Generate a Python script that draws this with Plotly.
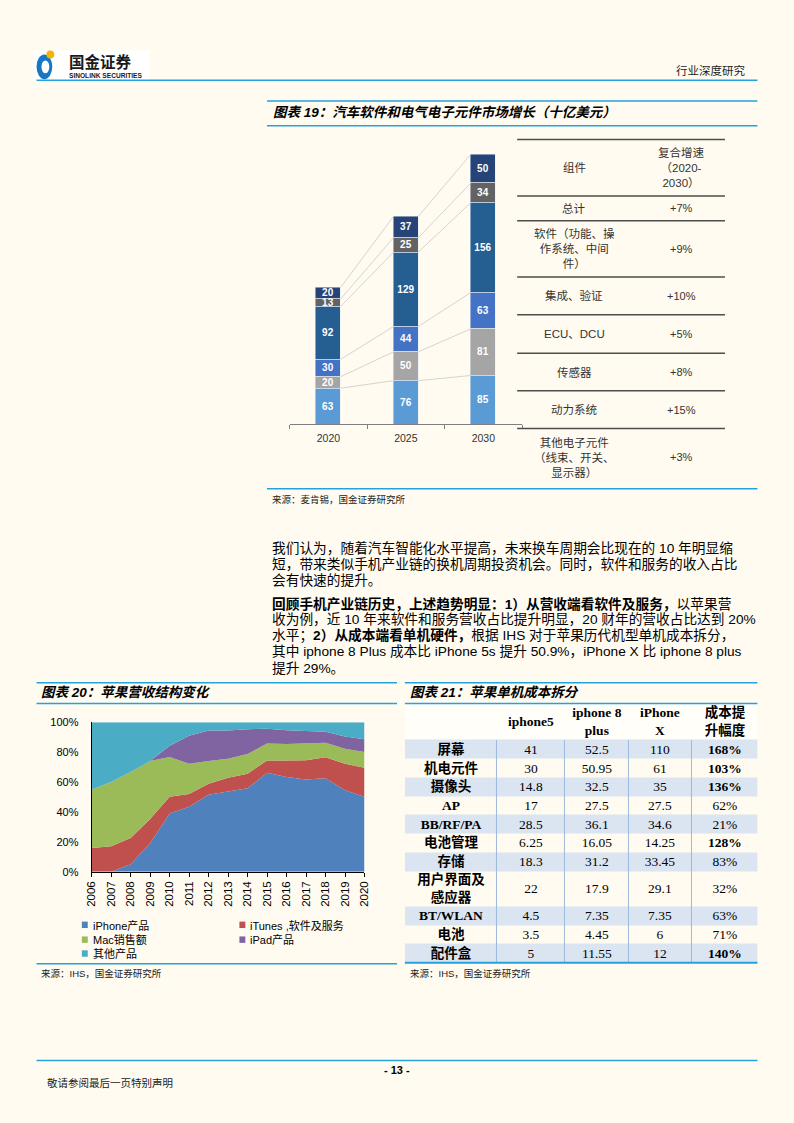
import plotly.graph_objects as go

W, H = 794, 1123
BG = "#FFFBF0"
RULE = "#22A3E0"
CJK = "Noto Sans CJK SC"
SANS = "Liberation Sans, Noto Sans CJK SC"
SERIF = "Liberation Serif, Noto Sans CJK SC"


def X(x):
    return x / W


def Y(y):
    return 1 - y / H


# ---------- 图表19: 汽车软件和电气电子元件市场 (十亿美元) ----------
years19 = ["2020", "2025", "2030"]
parts19 = ["其他电子元件", "动力系统", "传感器", "ECU、DCU", "集成、验证", "软件"]
other19 = [63, 76, 85]
power19 = [20, 50, 81]
sensor19 = [30, 44, 63]
ecu19 = [92, 129, 156]
verify19 = [13, 25, 34]
software19 = [20, 37, 50]
colors19 = ["#5B9BD5", "#A5A5A5", "#4472C4", "#255E91", "#636363", "#264478"]

table19_head = ["组件", "复合增速<br>（2020-<br>2030）"]
table19_parts = ["总计", "软件（功能、操<br>作系统、中间<br>件）", "集成、验证", "ECU、DCU",
                 "传感器", "动力系统", "其他电子元件<br>（线束、开关、<br>显示器）"]
table19_cagr = ["+7%", "+9%", "+10%", "+5%", "+8%", "+15%", "+3%"]

# ---------- 图表20: 苹果营收结构 (%) ----------
years20 = list(range(2006, 2021))
share_iphone = [0, 0, 5, 19, 39, 43.5, 51.4, 53.4, 55.8, 66.2, 63.4, 61.6, 62.5, 54.5, 50.1]
share_itunes = [15.9, 17, 17.5, 16.3, 11.1, 8.4, 7.5, 9.5, 9.8, 8.2, 11, 13, 14.1, 17.7, 19.4]
share_mac = [39.1, 43, 44.2, 38.7, 26.7, 20.3, 15.1, 12.6, 13.2, 11.3, 11, 11.3, 9.7, 10.1, 10.6]
share_ipad = [0, 0, 0, 0, 7.5, 18.7, 20.5, 19, 16.6, 9.9, 9.3, 8.4, 7.3, 8.2, 8.6]
share_other = [45, 40, 33.3, 26, 15.7, 9.1, 5.5, 5.5, 4.6, 4.4, 5.3, 5.7, 6.4, 9.5, 11.3]
names20 = ["iPhone产品", "iTunes ,软件及服务", "Mac销售额", "iPad产品", "其他产品"]
colors20 = ["#4F81BD", "#C0504D", "#9BBB59", "#8064A2", "#4BACC6"]

# ---------- 图表21: 苹果单机成本拆分 ----------
head21 = ["", "iphone5", "iphone 8<br>plus", "iPhone<br>X", "成本提<br>升幅度"]
parts21 = ["屏幕", "机电元件", "摄像头", "AP", "BB/RF/PA", "电池管理", "存储",
           "用户界面及<br>感应器", "BT/WLAN", "电池", "配件盒"]
cost_5 = [41, 30, 14.8, 17, 28.5, 6.25, 18.3, 22, 4.5, 3.5, 5]
cost_8p = [52.5, 50.95, 32.5, 27.5, 36.1, 16.05, 31.2, 17.9, 7.35, 4.45, 11.55]
cost_x = [110, 61, 35, 27.5, 34.6, 14.25, 33.45, 29.1, 7.35, 6, 12]
rise21 = [168, 103, 136, 62, 21, 128, 83, 32, 63, 71, 140]

para1 = [
    "我们认为，随着汽车智能化水平提高，未来换车周期会比现在的 10 年明显缩",
    "短，带来类似手机产业链的换机周期投资机会。同时，软件和服务的收入占比",
    "会有快速的提升。",
]
para2 = [
    "<b>回顾手机产业链历史，上述趋势明显：1）从营收端看软件及服务，</b>以苹果营",
    "收为例，近 10 年来软件和服务营收占比提升明显，20 财年的营收占比达到 20%",
    "水平；<b>2）从成本端看单机硬件，</b>根据 IHS 对于苹果历代机型单机成本拆分，",
    "其中 iphone 8 Plus 成本比 iPhone 5s 提升 50.9%，iPhone X 比 iphone 8 plus",
    "提升 29%。",
]

fig = go.Figure()

# chart 19 stacked bars
series19 = [other19, power19, sensor19, ecu19, verify19, software19]
xs = list(range(len(years19)))
bw = 0.32
for name, vals, col in zip(parts19, series19, colors19):
    fig.add_bar(x=xs, y=vals, name=name, marker_color=col, width=bw,
                text=vals, texttemplate="%{text}", textposition="inside",
                insidetextanchor="middle", textangle=0,
                textfont=dict(color="white", size=10, family="Liberation Sans", weight="bold"),
                xaxis="x", yaxis="y", showlegend=False, hoverinfo="skip")

# series lines between bars
run = [0] * len(xs)
lx, ly = [], []
for vals in series19:
    run = [r + v for r, v in zip(run, vals)]
    for i in range(len(xs) - 1):
        lx += [i + bw / 2, i + 1 - bw / 2, None]
        ly += [run[i], run[i + 1], None]
fig.add_scatter(x=lx, y=ly, mode="lines", line=dict(color="#C9C9C9", width=0.8),
                xaxis="x", yaxis="y", showlegend=False, hoverinfo="skip")

# chart 20 stacked areas
shares = [share_iphone, share_itunes, share_mac, share_ipad, share_other]
for name, vals, col in zip(names20, shares, colors20):
    fig.add_scatter(x=years20, y=vals, name=name, stackgroup="rev", mode="lines",
                    line=dict(width=0, color=col), fillcolor=col,
                    xaxis="x2", yaxis="y2", showlegend=False, hoverinfo="skip")

# chart 21 table, drawn as a heatmap grid with text
fmt = lambda v: f"{v:g}"
text21 = [[f"<b>{h}</b>" for h in head21]]
z21 = [[0] * len(head21)]
for i, p in enumerate(parts21):
    rise = f"<b>{rise21[i]}%</b>" if rise21[i] > 100 else f"{rise21[i]}%"
    text21.append([f"<b>{p}</b>", fmt(cost_5[i]), fmt(cost_8p[i]), fmt(cost_x[i]), rise])
    z21.append([1 if i % 2 == 0 else 2] * len(head21))
col_w = [93, 69, 65, 64, 67]
row_h = [37] + [36 if "<br>" in p else 19 for p in parts21]
x_edges = [0]
for w in col_w:
    x_edges.append(x_edges[-1] + w)
y_edges = [0]
for h in row_h:
    y_edges.append(y_edges[-1] + h)
fig.add_heatmap(z=z21, x=x_edges, y=y_edges, text=text21, texttemplate="%{text}",
                textfont=dict(family=SERIF, size=13.5, color="black"),
                zmin=0, zmax=2, showscale=False, hoverinfo="skip",
                colorscale=[[0, "#FFFEF9"], [0.25, "#FFFEF9"], [0.25, "#DBE5F1"],
                            [0.75, "#DBE5F1"], [0.75, BG], [1, BG]],
                xaxis="x3", yaxis="y3")

shapes = []
for xe in x_edges[1:-1]:
    shapes.append(dict(type="line", xref="x3", yref="y3", x0=xe, x1=xe,
                       y0=y_edges[1], y1=y_edges[-1], line=dict(color="#9DB9DB", width=1)))


def hline(x0, x1, y, color=RULE, width=1.5):
    shapes.append(dict(type="line", xref="paper", yref="paper", x0=X(x0), x1=X(x1),
                       y0=Y(y), y1=Y(y), line=dict(color=color, width=width)))


def rect(x0, y0, x1, y1, color, kind="rect"):
    shapes.append(dict(type=kind, xref="paper", yref="paper", x0=X(x0), x1=X(x1),
                       y0=Y(y1), y1=Y(y0), fillcolor=color, line=dict(width=0)))


annos = []


def txt(x, y, s, size=12, family=CJK, color="black", anchor="left", bold=False,
        italic=False):
    annos.append(dict(x=X(x), y=Y(y), xref="paper", yref="paper", text=s,
                      showarrow=False, xanchor=anchor, yanchor="middle", align=anchor,
                      font=dict(size=size, family=family, color=color,
                                weight="bold" if bold else "normal",
                                style="italic" if italic else "normal")))


# header
rect(28, 45, 146, 76, "white")
rect(31, 49, 47, 74, "#1677C2", "circle")
rect(36, 55, 44, 68, "white", "circle")
rect(41, 45, 49, 53, "#F6B400", "circle")
txt(62, 56, "国金证券", 15.5, CJK, "#1a1a1a", bold=True)
txt(62, 70.5, "SINOLINK SECURITIES", 6.6, "Liberation Sans", "#1a1a1a", bold=True)
txt(752, 65, "行业深度研究", 11.5, CJK, "#222", anchor="right")
hline(31, 763, 75)

# figure 19 frame
hline(265, 763, 96)
hline(265, 763, 121)
txt(269, 108, "图表 19：汽车软件和电气电子元件市场增长（十亿美元）", 13.5, SANS, bold=True, italic=True)
hline(265, 763, 488)
txt(268, 498, "来源：麦肯锡，国金证券研究所", 9.5, CJK, "#222")

# table in figure 19
edges = [135, 192, 217, 274, 312, 351, 389, 427]
for e in edges:
    hline(519, 730, e, "#4D4D4D", 1.5)
cx1, cx2 = 577, 686
txt(cx1, 163, table19_head[0], 11.5, CJK, "#333", anchor="center")
txt(cx2, 163, table19_head[1], 11.5, SANS, "#333", anchor="center")
row_mid = [(edges[i] + edges[i + 1]) / 2 for i in range(1, len(edges) - 1)] + [456]
for ym, p, g in zip(row_mid, table19_parts, table19_cagr):
    txt(cx1, ym, p, 11.5, SANS, "#333", anchor="center")
    txt(cx2, ym, g, 11, "Liberation Sans", "#333", anchor="center")

# body paragraphs
for i, line in enumerate(para1):
    txt(268, 548 + i * 16.5, line, 13.7, SANS, "black")
for i, line in enumerate(para2):
    txt(268, 604 + i * 16.3, line, 13.7, SANS, "black")

# figure 20 frame
hline(31, 397, 684)
hline(31, 397, 705)
txt(33, 694, "图表 20：苹果营收结构变化", 13.5, SANS, bold=True, italic=True)
hline(31, 397, 968)
txt(33, 978, "来源：IHS，国金证券研究所", 9.5, SANS, "#222")
leg_pos = [(77, 929), (237, 929), (77, 944), (237, 944), (77, 958)]
for (lxp, lyp), name, col in zip(leg_pos, names20, colors20):
    rect(lxp, lyp - 3.5, lxp + 6, lyp + 3, col)
    txt(lxp + 9, lyp, name, 11, SANS, "black")

# figure 21 frame
hline(405, 763, 684)
hline(405, 763, 705)
txt(408, 694, "图表 21：苹果单机成本拆分", 13.5, SANS, bold=True, italic=True)
hline(405, 763, 967, RULE, 2)
txt(408, 978, "来源：IHS，国金证券研究所", 9.5, SANS, "#222")

# footer
hline(31, 763, 1066)
txt(397, 1075, "- 13 -", 11, "Liberation Sans", "black", anchor="center", bold=True)
txt(40, 1088, "敬请参阅最后一页特别声明", 10.5, CJK, "#222")

fig.update_layout(
    width=W, height=H, margin=dict(l=0, r=0, t=0, b=0),
    paper_bgcolor=BG, plot_bgcolor=BG, barmode="stack", bargap=0,
    uniformtext=dict(minsize=10, mode="show"),
    shapes=shapes, annotations=annos,
    xaxis=dict(domain=[X(288), X(524)], range=[-0.5, 2.5], tickvals=xs, ticktext=years19,
               showline=True, linecolor="#7F7F7F", linewidth=1, ticks="", showgrid=False,
               zeroline=False, tickfont=dict(family="Liberation Sans", size=10.5, color="#333"),
               ticklabelstandoff=4,
               minor=dict(tickvals=[-0.5, 0.5, 1.5, 2.5], ticks="outside", ticklen=4,
                          tickcolor="#7F7F7F", showgrid=False)),
    yaxis=dict(domain=[Y(423), Y(141)], range=[0, 484], visible=False),
    xaxis2=dict(domain=[X(87), X(364)], range=[2006, 2020], dtick=1, tickangle=-90,
                showline=True, linecolor="black", linewidth=1, ticks="outside", ticklen=4,
                tickcolor="black", showgrid=False, zeroline=False,
                tickfont=dict(family="Liberation Sans", size=11.5, color="black"),
                anchor="y2"),
    yaxis2=dict(domain=[Y(875), Y(724)], range=[0, 100], dtick=20, ticksuffix="%",
                showline=True, linecolor="black", linewidth=1, ticks="", showgrid=False,
                zeroline=False, ticklabelstandoff=10,
                tickfont=dict(family="Liberation Sans", size=11, color="black"),
                anchor="x2"),
    xaxis3=dict(domain=[X(405), X(763)], range=[0, x_edges[-1]], visible=False,
                anchor="y3"),
    yaxis3=dict(domain=[Y(967), Y(705)], range=[y_edges[-1], 0], visible=False,
                anchor="x3"),
)

fig.write_html(
    "out.html",
    config={"displayModeBar": False},
    post_script="var d=document.getElementById('{plot_id}');"
                "d.style.position='fixed';d.style.left='0px';d.style.top='0px';"
                "document.body.style.margin='0';"
                "document.body.style.overflow='hidden';"
                "document.documentElement.style.overflow='hidden';",
)
